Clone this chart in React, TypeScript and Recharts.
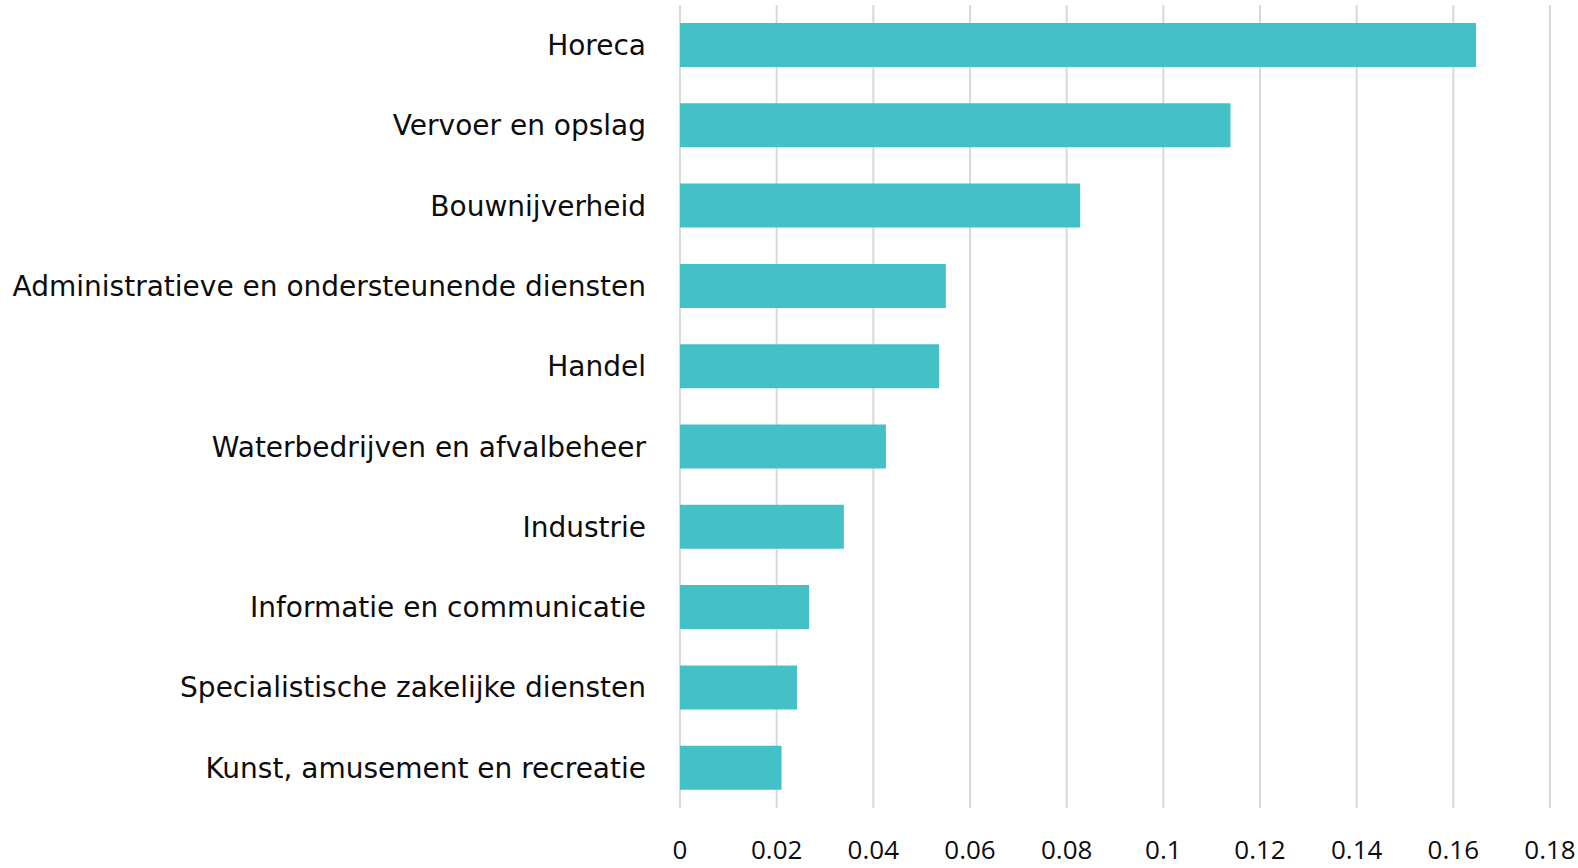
import { Bar, BarChart, CartesianGrid, XAxis, YAxis } from 'recharts';

const sectors = [
  'Horeca',
  'Vervoer en opslag',
  'Bouwnijverheid',
  'Administratieve en ondersteunende diensten',
  'Handel',
  'Waterbedrijven en afvalbeheer',
  'Industrie',
  'Informatie en communicatie',
  'Specialistische zakelijke diensten',
  'Kunst, amusement en recreatie',
];

const shares = [0.1647, 0.1139, 0.0828, 0.055, 0.0536, 0.0426, 0.0339, 0.0267, 0.0242, 0.021];

const xTicks = [0, 0.02, 0.04, 0.06, 0.08, 0.1, 0.12, 0.14, 0.16, 0.18];

const data = sectors.map((sector, i) => ({ sector, value: shares[i] }));

export default function App() {
  return (
    <div style={{ position: 'absolute', left: 0, top: 0, background: '#fff' }}>
      <BarChart
        width={1578}
        height={868}
        data={data}
        layout="vertical"
        margin={{ top: 5, right: 28, bottom: 5, left: 0 }}
      >
        <CartesianGrid horizontal={false} stroke="#d9d9d9" strokeWidth={2} />
        <XAxis
          type="number"
          domain={[0, 0.18]}
          ticks={xTicks}
          tickFormatter={(v: number) => String(Number(v.toFixed(2)))}
          axisLine={false}
          tickLine={false}
          tickSize={0}
          tickMargin={33}
          height={55}
          tick={{ fontSize: 26, fill: '#0d0d0d', fontFamily: '"Open Sans", sans-serif' }}
        />
        <YAxis
          type="category"
          dataKey="sector"
          width={680}
          axisLine={false}
          tickLine={false}
          tickSize={0}
          tickMargin={34}
          interval={0}
          tick={{ fontSize: 28, fill: '#0d0d0d', fontFamily: '"DejaVu Sans", sans-serif' }}
        />
        <Bar dataKey="value" fill="#44c1c6" barSize={44} isAnimationActive={false} />
      </BarChart>
    </div>
  );
}
